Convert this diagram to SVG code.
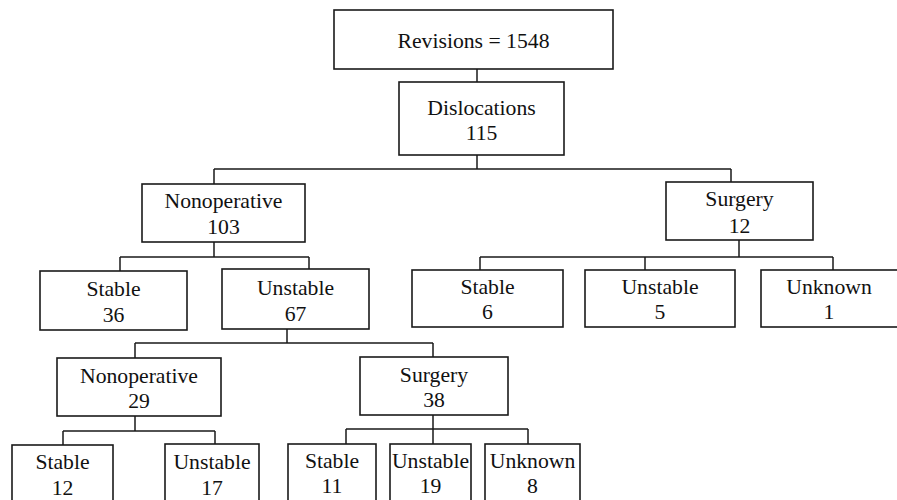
<svg xmlns="http://www.w3.org/2000/svg" width="897" height="500" viewBox="0 0 897 500">
<style>
rect{fill:#fff;stroke:#1a1a1a;stroke-width:1.6}
.c path{fill:none;stroke:#1a1a1a;stroke-width:1.5}
.t text{font-family:'Liberation Serif','DejaVu Serif',serif;font-size:21.7px;fill:#111;text-anchor:middle}
</style>
<rect x="0" y="0" width="897" height="500" style="stroke:none"/>
<g class="c" id="connectors">
<path d="M477 69V82"/>
<path d="M477 155V169M214 169H731M214 169V184M731 169V182"/>
<path d="M214 242V257M120 257H309M120 257V271M309 257V269"/>
<path d="M739 240V257M480 257H833M480 257V270M645 257V270M833 257V270"/>
<path d="M287 329V343M135 343H433M135 343V358M433 343V357"/>
<path d="M135 416V431M63 431H215M63 431V445M215 431V444"/>
<path d="M433 415V429M346 429H528M346 429V444M433 429V444M528 429V444"/>
</g>
<g class="t" font-family="Liberation Serif, serif">
<g id="revisions"><rect x="334" y="10" width="279" height="59"/><text x="473.5" y="48">Revisions = 1548</text></g>
<g id="dislocations"><rect x="399" y="82" width="165" height="73"/><text x="481.5" y="115">Dislocations</text><text x="481.5" y="140">115</text></g>
<g id="nonop1"><rect x="142" y="184" width="163" height="58"/><text x="223.5" y="208">Nonoperative</text><text x="223.5" y="234">103</text></g>
<g id="surgery1"><rect x="666" y="182" width="147" height="58"/><text x="739.5" y="206">Surgery</text><text x="739.5" y="233">12</text></g>
<g id="stable36"><rect x="40" y="271" width="147" height="59"/><text x="113.5" y="296">Stable</text><text x="113.5" y="322">36</text></g>
<g id="unstable67"><rect x="222" y="269" width="147" height="60"/><text x="295.5" y="295">Unstable</text><text x="295.5" y="321">67</text></g>
<g id="stable6"><rect x="412" y="270" width="151" height="57"/><text x="487.5" y="294">Stable</text><text x="487.5" y="319">6</text></g>
<g id="unstable5"><rect x="585" y="270" width="150" height="57"/><text x="660" y="294">Unstable</text><text x="660" y="319">5</text></g>
<g id="unknown1"><rect x="761" y="270" width="140" height="57"/><text x="829" y="294">Unknown</text><text x="829" y="319">1</text></g>
<g id="nonop2"><rect x="57" y="358" width="164" height="58"/><text x="139" y="383">Nonoperative</text><text x="139" y="408">29</text></g>
<g id="surgery2"><rect x="360" y="357" width="148" height="58"/><text x="434" y="382">Surgery</text><text x="434" y="407">38</text></g>
<g id="stable12"><rect x="12" y="445" width="101" height="70"/><text x="62.5" y="469">Stable</text><text x="62.5" y="495">12</text></g>
<g id="unstable17"><rect x="165" y="444" width="94" height="70"/><text x="212" y="469">Unstable</text><text x="212" y="495">17</text></g>
<g id="stable11"><rect x="288" y="444" width="88" height="70"/><text x="332" y="468">Stable</text><text x="332" y="493">11</text></g>
<g id="unstable19"><rect x="390" y="444" width="81" height="70"/><text x="430.5" y="468">Unstable</text><text x="430.5" y="493">19</text></g>
<g id="unknown8"><rect x="485" y="444" width="95" height="70"/><text x="532.5" y="468">Unknown</text><text x="532.5" y="493">8</text></g>
</g>
</svg>
